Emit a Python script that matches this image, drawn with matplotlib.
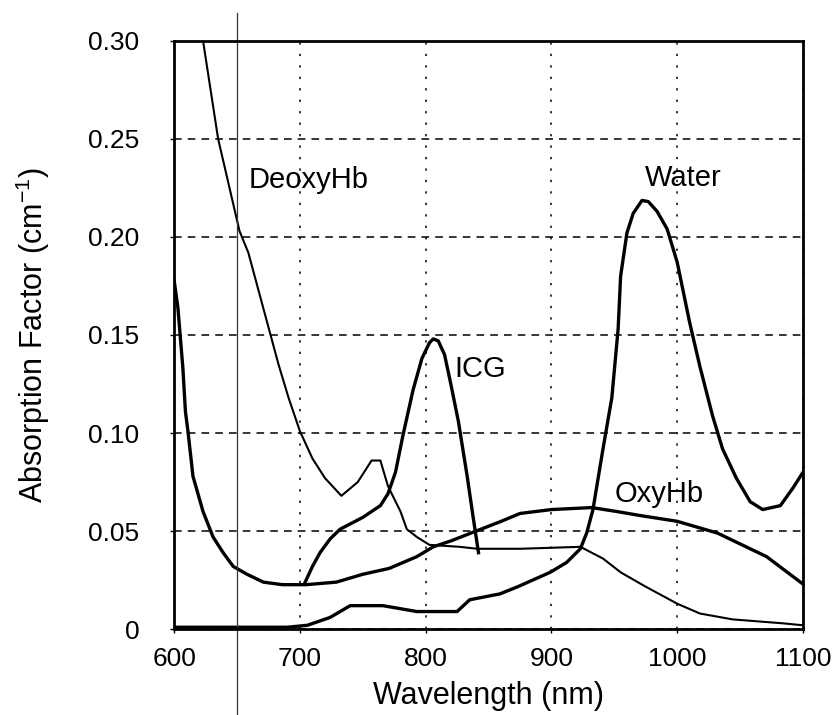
import matplotlib
matplotlib.use("Agg")
import matplotlib.pyplot as plt

plt.rcParams['font.family'] = ['Liberation Sans', 'DejaVu Sans']
plt.rcParams['mathtext.default'] = 'regular'

# ---- data ----
oxy_wl = [600, 603, 607, 609, 611, 615, 623, 631, 639, 647, 658, 671, 686, 705, 729, 750,
          771, 793, 806, 820, 840, 860, 875, 900, 932, 952, 970, 1000, 1032, 1071, 1100]
oxy = [0.178, 0.164, 0.133, 0.111, 0.101, 0.078, 0.060, 0.047, 0.039, 0.032, 0.028, 0.024,
       0.0227, 0.0227, 0.024, 0.028, 0.031, 0.037, 0.042, 0.045, 0.050, 0.055, 0.059, 0.061,
       0.062, 0.060, 0.058, 0.055, 0.049, 0.037, 0.023]

water_wl = [600, 650, 690, 706, 724, 740, 766, 793, 825, 835, 859, 873, 899, 912, 923, 928,
            933, 941, 948, 953, 955, 960, 965, 972, 977, 984, 992, 1000, 1010, 1018, 1028,
            1036, 1047, 1058, 1068, 1082, 1092, 1100]
water = [0.001, 0.001, 0.001, 0.002, 0.006, 0.012, 0.012, 0.009, 0.009, 0.015, 0.018, 0.0216,
         0.029, 0.034, 0.041, 0.049, 0.061, 0.092, 0.118, 0.153, 0.180, 0.202, 0.212, 0.2186,
         0.218, 0.213, 0.204, 0.187, 0.156, 0.134, 0.109, 0.092, 0.077, 0.065, 0.061, 0.063,
         0.072, 0.080]

icg_wl = [704, 710, 716, 724, 732, 750, 764, 770, 776, 782, 790, 797, 803, 806, 810, 815,
          820, 826, 833, 838, 842]
icg = [0.0237, 0.032, 0.039, 0.046, 0.051, 0.057, 0.063, 0.069, 0.080, 0.099, 0.122, 0.138,
       0.146, 0.148, 0.147, 0.140, 0.125, 0.106, 0.078, 0.056, 0.039]

deoxy_wl = [623, 635, 652, 659, 667, 675, 683, 691, 700, 710, 720, 733, 746, 757, 764, 770,
            780, 785, 793, 803, 827, 841, 875, 923, 941, 955, 974, 1000, 1018, 1044, 1084, 1100]
deoxy = [0.300, 0.250, 0.203, 0.192, 0.173, 0.154, 0.135, 0.118, 0.101, 0.087, 0.077, 0.068,
         0.075, 0.086, 0.086, 0.073, 0.060, 0.051, 0.047, 0.043, 0.042, 0.041, 0.041, 0.042,
         0.036, 0.029, 0.022, 0.013, 0.008, 0.005, 0.003, 0.002]

x_ticks = [600, 700, 800, 900, 1000, 1100]
y_ticks = [0, 0.05, 0.10, 0.15, 0.20, 0.25, 0.30]
y_tick_labels = ['0', '0.05', '0.10', '0.15', '0.20', '0.25', '0.30']

labels = ['DeoxyHb', 'Water', 'ICG', 'OxyHb']
label_x = [659, 974, 823, 950]
label_y = [0.229, 0.230, 0.1325, 0.069]
marker_wl = 650

# ---- figure ----
fig = plt.figure(figsize=(8.33, 7.15), dpi=100)
ax = fig.add_axes([0.209, 0.120, 0.755, 0.823])

ax.plot(oxy_wl, oxy, color='black', lw=2.4, solid_joinstyle='round')
ax.plot(water_wl, water, color='black', lw=2.4, solid_joinstyle='round')
ax.plot(icg_wl, icg, color='black', lw=2.4, solid_joinstyle='round')
ax.plot(deoxy_wl, deoxy, color='black', lw=1.5, solid_joinstyle='round')

ax.axvline(marker_wl, ymin=-0.146, ymax=1.048, clip_on=False, color='#333333', lw=0.9)

ax.set_xlim(600, 1100)
ax.set_ylim(0, 0.30)
ax.set_xticks(x_ticks)
ax.set_yticks(y_ticks)
ax.set_yticklabels(y_tick_labels)
ax.tick_params(labelsize=19, length=3, width=1)
ax.tick_params(axis='y', pad=22)
ax.tick_params(axis='x', pad=10)

ax.yaxis.grid(True, color='black', lw=1.1, linestyle=(0, (5, 4)))
ax.xaxis.grid(True, color='black', lw=1.1, linestyle=(0, (1.5, 6)))
ax.set_axisbelow(True)
for s in ax.spines.values():
    s.set_linewidth(2)

ax.set_xlabel('Wavelength (nm)', fontsize=22, labelpad=7)
ax.set_ylabel('Absorption Factor (cm$^{-1}$)', fontsize=22, labelpad=26)

for t, xx, yy in zip(labels, label_x, label_y):
    ax.text(xx, yy, t, fontsize=21, ha='left', va='center')

fig.savefig('out.png', dpi=100)
